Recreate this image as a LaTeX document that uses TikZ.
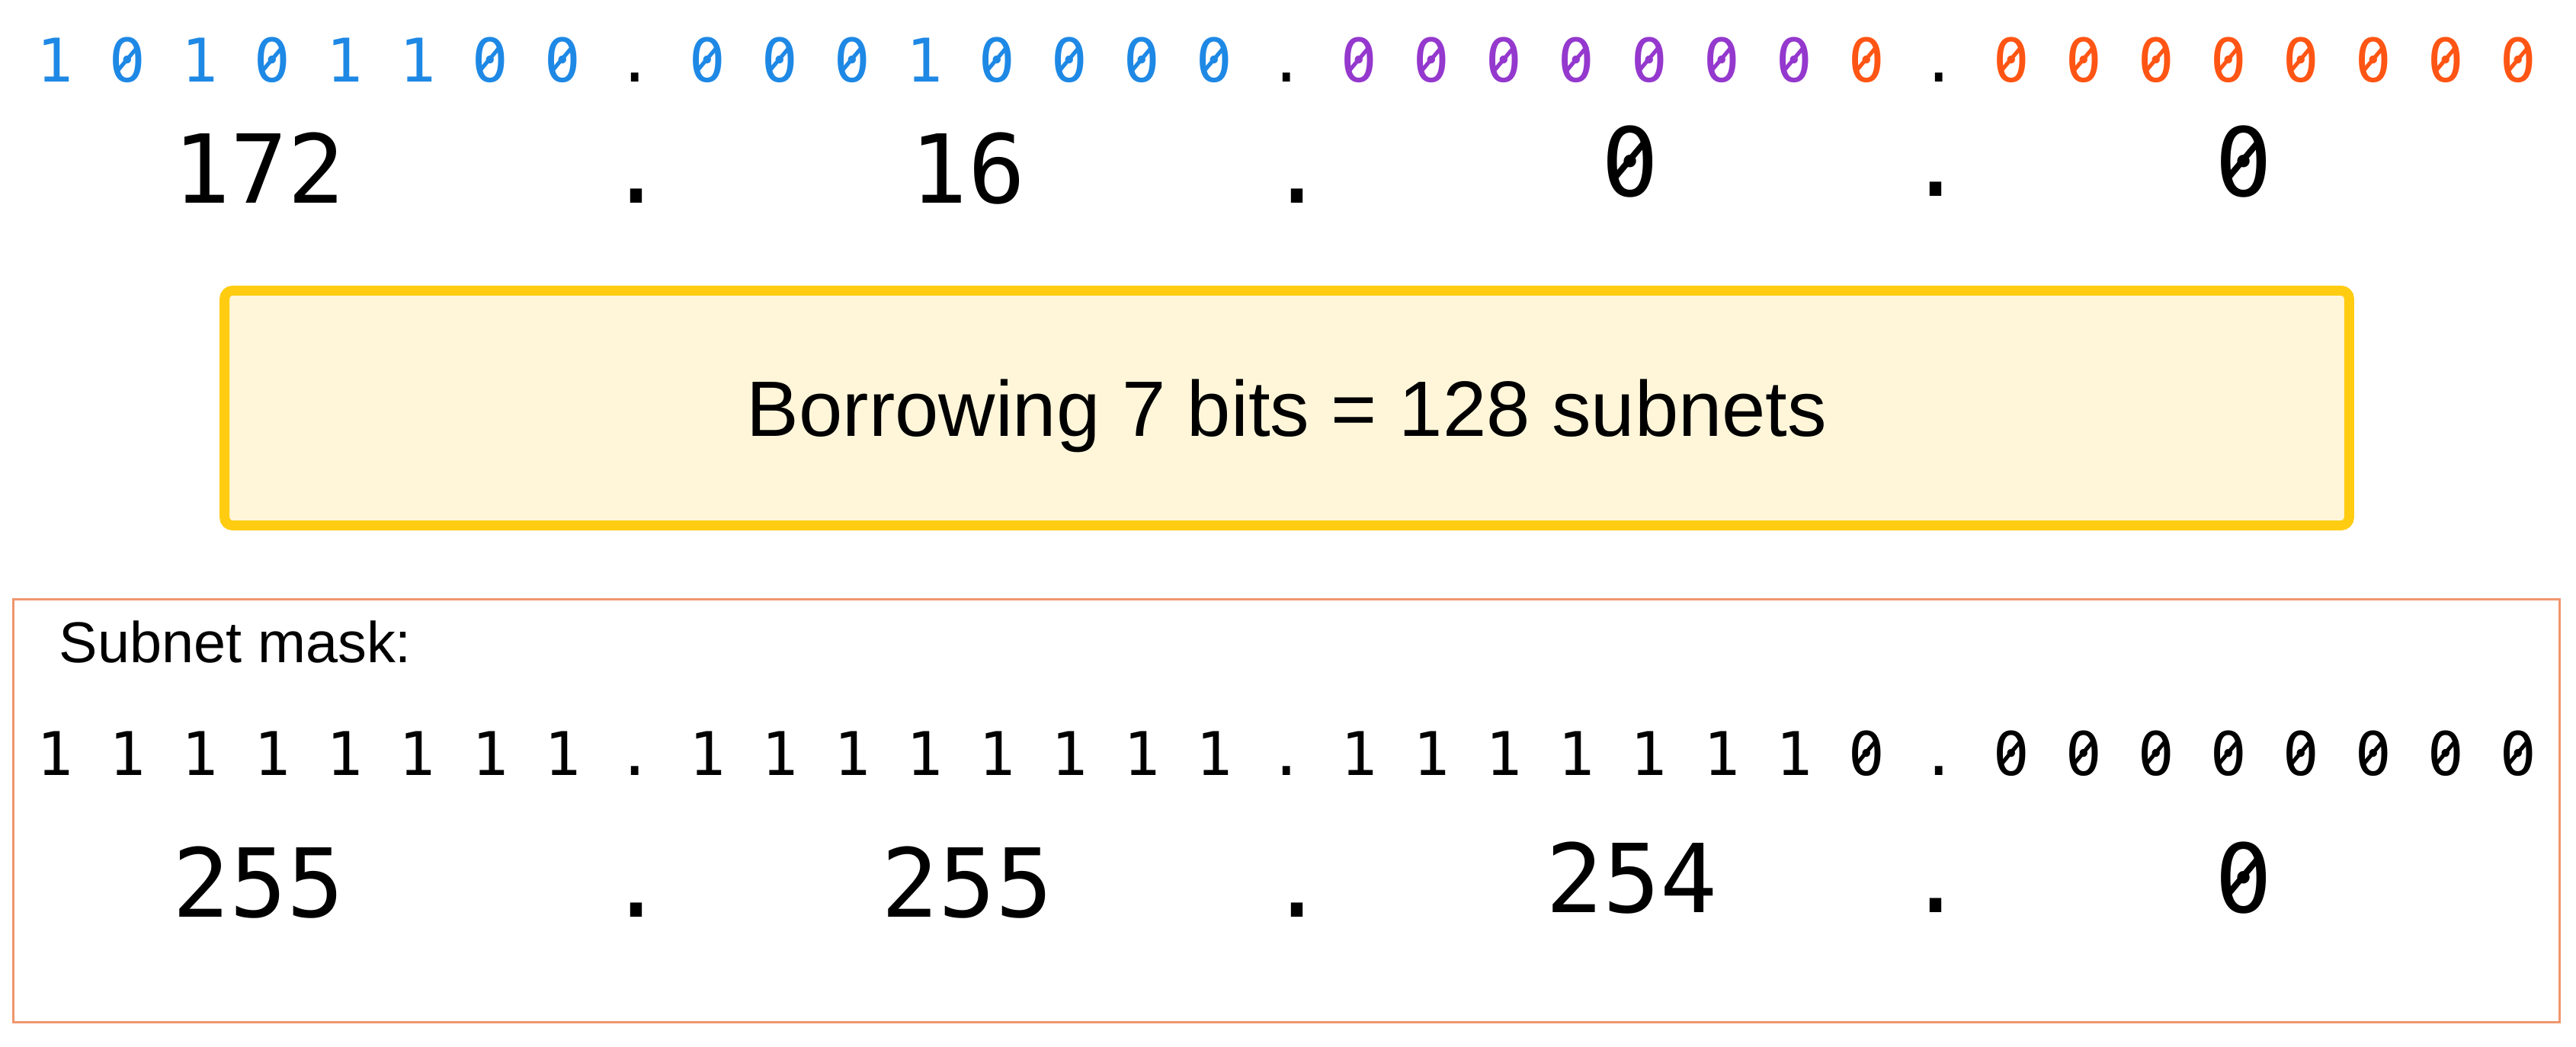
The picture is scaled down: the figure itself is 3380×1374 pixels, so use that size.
\documentclass[tikz,border=0pt]{standalone}
\usepackage{fontspec}
\usepackage{graphicx}
\setmainfont{Liberation Sans}
\setmonofont{DejaVu Sans Mono}
\definecolor{netblue}{RGB}{30,136,229}
\definecolor{subpurple}{RGB}{148,56,206}
\definecolor{hostorange}{RGB}{255,85,20}
\definecolor{borrowgold}{RGB}{255,204,17}
\definecolor{borrowfill}{RGB}{255,246,218}
\definecolor{maskline}{RGB}{240,150,110}
% slashed zero
\newcommand{\zs}{\leavevmode\rlap{0}\hbox to \fontcharwd\font`0{\hss\raisebox{0.16em}{\rotatebox{50}{\rule{0.55em}{0.065em}}}\hss}}

\begin{document}
\begin{tikzpicture}[x=0.01cm,y=0.01cm,
    bits/.style={anchor=base west,inner sep=0pt,font=\fontsize{22.45pt}{26pt}\ttfamily\frenchspacing},
    dec/.style={anchor=base,inner sep=0pt,font=\fontsize{35.5pt}{40pt}\ttfamily},
    borrowbox/.style={draw=borrowgold,fill=borrowfill,line width=0.13cm,rounded corners=3pt,
      minimum width=27.86cm,minimum height=3.08cm,text height=21pt,text depth=0pt,
      font=\fontsize{29.3pt}{34pt}\selectfont}]
  \path[use as bounding box,fill=white] (0,0) rectangle (3380,1374);
  % address in binary and decimal
  \node[bits] (ipbin) at (48,1266) {{\color{netblue}1 \zs{} 1 \zs{} 1 1 \zs{} \zs{}} . {\color{netblue}\zs{} \zs{} \zs{} 1 \zs{} \zs{} \zs{} \zs{}} . {\color{subpurple}\zs{} \zs{} \zs{} \zs{} \zs{} \zs{} \zs{}} {\color{hostorange}\zs{}} . {\color{hostorange}\zs{} \zs{} \zs{} \zs{} \zs{} \zs{} \zs{} \zs{}}};
  \foreach \t/\x/\y [count=\i] in {172/340/1107, ./835/1107, 16/1270/1107, ./1702/1107, \zs/2139/1116, ./2540/1116, \zs/2944/1116}
    \node[dec] (ipdec\i) at (\x,\y) {\t};
  \node[borrowbox] (borrow) at (1688.5,838.5) {Borrowing 7 bits = 128 subnets};
  % mask
  \draw[maskline,line width=0.035cm] (17.5,32.5) rectangle (3358.5,587.5);
  \node[anchor=base west,inner sep=0pt,font=\fontsize{21.5pt}{25pt}\selectfont] (masklabel) at (77,504) {Subnet mask:};
  \node[bits] (maskbin) at (48,356) {1 1 1 1 1 1 1 1 . 1 1 1 1 1 1 1 1 . 1 1 1 1 1 1 1 \zs{} . \zs{} \zs{} \zs{} \zs{} \zs{} \zs{} \zs{} \zs{}};
  \foreach \t/\x/\y [count=\i] in {255/339/170, ./835/170, 255/1269/170, ./1702/170, 254/2141/176, ./2540/176, \zs/2944/176}
    \node[dec] (maskdec\i) at (\x,\y) {\t};
\end{tikzpicture}
\end{document}
